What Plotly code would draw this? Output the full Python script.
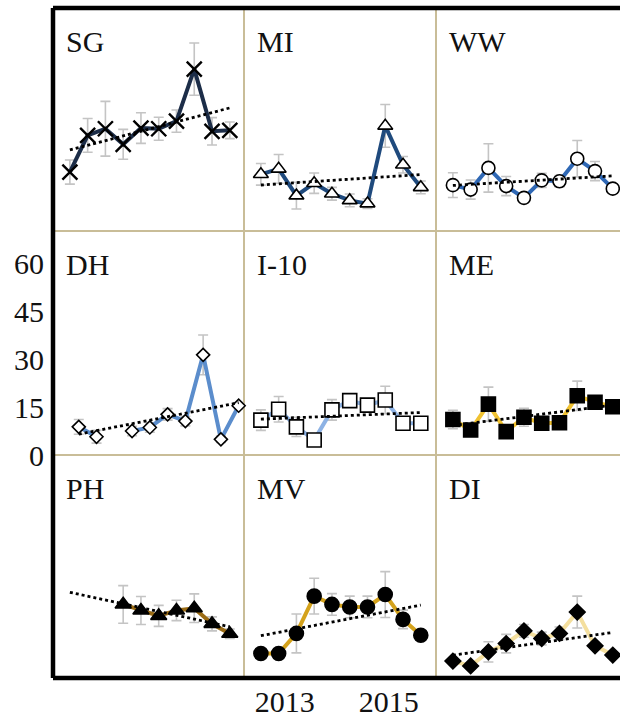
import numpy as np
import plotly.graph_objects as go

# ---------------- data ----------------
periods = list(range(10))
x_tick_vals = [1.35, 7.2]
x_tick_text = ["2013", "2015"]
y_tick_vals = [0, 15, 30, 45, 60]
y_tick_text = ["0", "15", "30", "45", "60"]

panel_names = ["SG", "MI", "WW", "DH", "I-10", "ME", "PH", "MV", "DI"]

sg = [18.5, 30.0, 32.1, 27.2, 32.3, 32.1, 34.5, 50.8, 31.3, 31.6]
sg_err = [3.8, 5.3, 8.6, 4.7, 4.8, 3.6, 3.5, 8.2, 4.3, 2.6]
mi = [17.8, 19.5, 11.1, 15.0, 11.7, 9.6, 8.6, 33.0, 20.8, 13.7]
mi_err = [3.4, 4.5, 4.2, 3.2, 2.0, 2.0, 1.5, 6.7, 2.6, 2.0]
ww = [14.4, 13.0, 19.8, 14.1, 10.4, 15.9, 15.6, 22.7, 18.8, 13.3]
ww_err = [3.9, 3.0, 7.6, 3.0, 1.5, 2.2, 1.8, 5.7, 3.0, 1.5]
dh = [8.8, 5.7, None, 7.5, 8.6, 12.7, 10.6, 31.3, 4.9, 15.4]
dh_err = [2.3, 2.0, 0, 1.5, 1.5, 1.8, 1.5, 6.2, 1.0, 1.0]
i10 = [10.9, 14.3, 8.8, 4.7, 14.1, 17.0, 15.6, 17.2, 9.9, 9.9]
i10_err = [3.2, 4.0, 3.0, 1.0, 3.2, 2.0, 1.5, 4.3, 1.0, 1.0]
me = [11.1, 7.8, 15.9, 7.3, 11.8, 9.9, 10.1, 18.5, 16.5, 15.1]
me_err = [2.9, 1.0, 5.3, 1.0, 2.8, 1.0, 1.0, 4.6, 1.0, 1.0]
ph = [None, None, None, 23.1, 21.2, 19.5, 21.2, 21.9, 17.0, 13.9]
ph_err = [0, 0, 0, 5.9, 4.4, 3.3, 3.2, 4.5, 2.2, 1.5]
mv = [7.7, 7.7, 14.0, 25.7, 23.1, 22.3, 22.3, 26.2, 18.4, 13.4]
mv_err = [1.0, 1.0, 6.1, 5.6, 3.4, 3.4, 3.4, 7.2, 2.9, 1.0]
di = [5.3, 3.8, 8.2, 10.8, 14.8, 12.4, 14.0, 20.7, 10.1, 7.2]
di_err = [1.0, 1.0, 3.2, 2.9, 2.0, 2.0, 2.0, 5.0, 1.0, 1.0]

series = [sg, mi, ww, dh, i10, me, ph, mv, di]
errors = [sg_err, mi_err, ww_err, dh_err, i10_err, me_err, ph_err, mv_err, di_err]

line_colors = ["#1c2d48", "#1f4a7d", "#2f68b5", "#5b8dcc", "#8db2e4",
               "#f0c232", "#9a6b14", "#d4a21c", "#f4df9e"]
symbols = ["x-thin", "triangle-up", "circle", "diamond", "square",
           "square", "triangle-up", "circle", "diamond"]
fills = ["black", "white", "white", "white", "white",
         "black", "black", "black", "black"]
sizes = [15, 13, 13, 10, 14, 14, 14, 14, 12]

# ---------------- layout geometry ----------------
W, H = 620, 719
ML, MT, MB = 53, 8, 41
PW = W - ML            # plot area width
PH = H - MT - MB       # plot area height
col_px = [(53, 244), (244, 436), (436, 620)]
row_px = [(8, 231), (231, 455), (455, 678)]
unit = 191 / 10.75     # px per period

def px2x(px):
    return (px - ML) / PW

def px2y(py):
    return (H - MB - py) / PH

FONT = "Liberation Serif, Times New Roman, serif"

fig = go.Figure()
layout = {}
annotations = []
for k in range(9):
    r, c = divmod(k, 3)
    suf = "" if k == 0 else str(k + 1)
    x0p, x1p = col_px[c]
    y0p, y1p = row_px[r]
    shift = 0.5 if panel_names[k] == "DH" else 0.0
    xr0 = -0.95 - shift
    xr1 = xr0 + (x1p - x0p) / unit
    ys = series[k]
    fig.add_trace(go.Scatter(
        x=periods, y=ys, mode="lines+markers",
        line=dict(color=line_colors[k], width=4),
        marker=dict(symbol=symbols[k], size=sizes[k], color=fills[k],
                    line=dict(color="black", width=2.4 if symbols[k] == "x-thin" else 1.6)),
        error_y=dict(type="data", array=errors[k], color="#c4c4c4",
                     thickness=1.6, width=5),
        cliponaxis=False, connectgaps=False, showlegend=False,
        xaxis="x" + suf, yaxis="y" + suf,
    ))
    xs = np.array([p for p, v in zip(periods, ys) if v is not None], float)
    vs = np.array([v for v in ys if v is not None], float)
    slope, icpt = np.polyfit(xs, vs, 1)
    tx = [periods[0], periods[-1]]
    fig.add_trace(go.Scatter(
        x=tx, y=[icpt + slope * t for t in tx], mode="lines",
        line=dict(color="black", width=2.8, dash="dot"),
        cliponaxis=False, showlegend=False, hoverinfo="skip",
        xaxis="x" + suf, yaxis="y" + suf,
    ))
    xa = dict(domain=[px2x(x0p), px2x(x1p)], range=[xr0, xr1],
              showgrid=False, zeroline=False, showline=False, automargin=False,
              anchor="y" + suf, showticklabels=False, ticks="")
    ya = dict(domain=[px2y(y1p), px2y(y0p)], range=[0, 70],
              showgrid=False, zeroline=False, showline=False, automargin=False,
              anchor="x" + suf, showticklabels=False, ticks="")
    if r == 2 and c == 1:
        xa.update(showticklabels=True, tickmode="array", tickvals=x_tick_vals,
                  ticktext=x_tick_text, ticklabelstandoff=3,
                  tickfont=dict(family=FONT, size=30, color="#111111"))
    if r == 1 and c == 0:
        ya.update(showticklabels=True, tickmode="array", tickvals=y_tick_vals,
                  ticktext=y_tick_text, ticklabelstandoff=8,
                  tickfont=dict(family=FONT, size=30, color="#111111"))
    layout["xaxis" + suf] = xa
    layout["yaxis" + suf] = ya
    annotations.append(dict(
        text=panel_names[k], xref="paper", yref="paper",
        x=px2x(x0p + 11), y=px2y(y0p + 33), xanchor="left", yanchor="middle",
        showarrow=False, font=dict(family=FONT, size=30, color="#111111"),
    ))

shapes = []
tan = "#c9bd98"
for xp in (244, 436):
    shapes.append(dict(type="line", xref="paper", yref="paper",
                       x0=px2x(xp), x1=px2x(xp), y0=px2y(678), y1=px2y(8),
                       line=dict(color=tan, width=2), layer="below"))
for yp in (231, 455):
    shapes.append(dict(type="line", xref="paper", yref="paper",
                       x0=px2x(53), x1=1, y0=px2y(yp), y1=px2y(yp),
                       line=dict(color=tan, width=2), layer="below"))
# black frame (left, top, bottom)
for (xa0, ya0, xa1, ya1) in [(53, 8, 53, 678), (53, 8, 620, 8), (53, 678, 620, 678)]:
    shapes.append(dict(type="line", xref="paper", yref="paper",
                       x0=px2x(xa0), x1=px2x(xa1), y0=px2y(ya0), y1=px2y(ya1),
                       line=dict(color="black", width=4.5), layer="above"))

fig.update_layout(
    width=W, height=H,
    margin=dict(l=ML, r=0, t=MT, b=MB, pad=0, autoexpand=False),
    paper_bgcolor="white", plot_bgcolor="white",
    font=dict(family=FONT, size=30, color="#111111"),
    annotations=annotations, shapes=shapes,
    showlegend=False,
    **layout,
)
fig.write_html("out.html",
               config={"displayModeBar": False},
               post_script="document.body.style.margin='0px';"
                           "document.body.style.padding='0px';"
                           "document.body.style.overflow='hidden';")
